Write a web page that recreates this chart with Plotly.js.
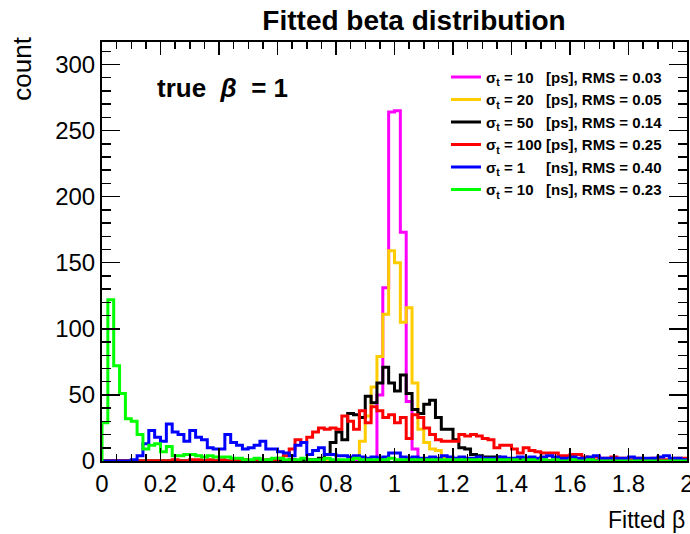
<!DOCTYPE html>
<html>
<head>
<meta charset="utf-8">
<script src="https://cdn.plot.ly/plotly-3.0.1.min.js"></script>
<style>
  html, body { margin: 0; padding: 0; background: #ffffff; }
  #chart { width: 690px; height: 534px; }
</style>
</head>
<body>
<div id="chart"></div>
<script>
// Histogram binning of the fitted beta: 100 bins over [0, 2]
const betaMin = 0;
const betaMax = 2;

// Axis tick labels
const xTickValues = [0, 0.2, 0.4, 0.6, 0.8, 1, 1.2, 1.4, 1.6, 1.8, 2];
const xTickLabels = ['0', '0.2', '0.4', '0.6', '0.8', '1', '1.2', '1.4', '1.6', '1.8', '2'];
const yTickValues = [0, 50, 100, 150, 200, 250, 300];
const yTickLabels = ['0', '50', '100', '150', '200', '250', '300'];

// Bin contents (entries per bin), one array per timing resolution
const counts10ps = [
  0, 0, 0, 0, 0, 0, 0, 0, 0, 0,
  0, 0, 0, 0, 0, 0, 0, 0, 0, 0,
  0, 0, 0, 0, 0, 0, 0, 0, 0, 0,
  0, 0, 0, 0, 0, 0, 0, 0, 0, 0,
  0, 0, 0, 0, 0, 0, 0, 50, 131, 264,
  265, 173, 45, 9, 0, 0, 0, 0, 0, 0,
  0, 0, 0, 0, 0, 0, 0, 0, 0, 0,
  0, 0, 0, 0, 0, 0, 0, 0, 0, 0,
  0, 0, 0, 0, 0, 0, 0, 0, 0, 0,
  0, 0, 0, 0, 0, 0, 0, 0, 0, 0
];

const counts20ps = [
  0, 0, 0, 0, 0, 0, 0, 0, 0, 0,
  0, 0, 0, 0, 0, 0, 0, 0, 0, 0,
  0, 0, 0, 0, 0, 0, 0, 0, 0, 0,
  0, 0, 0, 0, 0, 0, 0, 0, 0, 0,
  0, 0, 0, 2, 15, 34, 56, 79, 111, 159,
  150, 105, 116, 59, 24, 14, 9, 8, 2, 0,
  0, 0, 0, 0, 0, 0, 0, 0, 0, 0,
  0, 0, 0, 0, 0, 0, 0, 0, 0, 0,
  0, 0, 0, 0, 0, 0, 0, 0, 0, 0,
  0, 0, 0, 0, 0, 0, 0, 0, 0, 0
];

const counts50ps = [
  0, 0, 0, 0, 0, 0, 0, 0, 0, 0,
  0, 0, 0, 0, 0, 0, 0, 0, 0, 0,
  0, 0, 0, 0, 0, 0, 0, 0, 0, 0,
  0, 0, 1, 0, 1, 1, 1, 2, 5, 14,
  22, 16, 36, 35, 33, 49, 44, 59, 71, 59,
  53, 65, 51, 39, 36, 43, 46, 33, 24, 24,
  16, 10, 9, 5, 4, 3, 3, 3, 2, 1,
  1, 1, 0, 1, 0, 0, 0, 0, 0, 0,
  0, 0, 0, 0, 0, 0, 0, 0, 0, 0,
  0, 0, 0, 0, 0, 0, 0, 0, 0, 0
];

const counts100ps = [
  0, 0, 0, 0, 0, 0, 0, 0, 0, 0,
  0, 0, 1, 0, 0, 1, 1, 0, 1, 0,
  1, 0, 1, 0, 1, 0, 1, 0, 1, 1,
  2, 4, 9, 16, 14, 18, 22, 25, 24, 25,
  24, 34, 30, 24, 38, 29, 41, 38, 33, 35,
  29, 33, 17, 35, 33, 25, 20, 16, 15, 15,
  15, 20, 19, 20, 19, 17, 16, 10, 12, 12,
  9, 6, 10, 8, 7, 6, 6, 6, 4, 4,
  5, 5, 3, 2, 3, 2, 2, 3, 2, 2,
  1, 2, 1, 1, 2, 1, 1, 1, 2, 2
];

const counts1ns = [
  0, 0, 0, 0, 0, 1, 4, 13, 23, 18,
  15, 28, 22, 20, 15, 23, 18, 16, 10, 9,
  9, 20, 14, 12, 9, 10, 12, 15, 9, 9,
  7, 6, 4, 12, 14, 5, 8, 10, 5, 5,
  4, 4, 3, 4, 3, 2, 3, 2, 3, 6,
  6, 3, 2, 3, 2, 2, 3, 2, 4, 3,
  2, 3, 2, 2, 3, 2, 2, 2, 3, 2,
  2, 3, 2, 3, 2, 3, 4, 3, 2, 2,
  3, 2, 2, 3, 4, 2, 2, 2, 2, 2,
  3, 2, 2, 2, 2, 3, 4, 2, 2, 1
];

const counts10ns = [
  29, 122, 72, 51, 32, 30, 20, 9, 12, 13,
  7, 11, 4, 4, 5, 5, 4, 3, 4, 3,
  3, 3, 2, 2, 1, 1, 2, 1, 1, 2,
  2, 1, 1, 1, 2, 1, 1, 1, 2, 1,
  1, 1, 1, 2, 1, 1, 1, 1, 1, 2,
  1, 1, 1, 1, 1, 1, 1, 1, 1, 1,
  1, 1, 1, 1, 1, 1, 1, 1, 1, 1,
  1, 0, 1, 1, 0, 1, 0, 1, 0, 0,
  1, 0, 0, 1, 0, 0, 0, 0, 0, 0,
  0, 0, 0, 0, 0, 0, 0, 0, 0, 0
];

// Legend labels
const nb = '\u00a0';
const labels = [
  'σ<sub>t</sub> = 10' + nb + nb + nb + '[ps], RMS = 0.03',
  'σ<sub>t</sub> = 20' + nb + nb + nb + '[ps], RMS = 0.05',
  'σ<sub>t</sub> = 50' + nb + nb + nb + '[ps], RMS = 0.14',
  'σ<sub>t</sub> = 100 [ps], RMS = 0.25',
  'σ<sub>t</sub> = 1' + nb + nb + nb + nb + nb + '[ns], RMS = 0.40',
  'σ<sub>t</sub> = 10' + nb + nb + nb + '[ns], RMS = 0.23'
];
const colors = ['#ff00ff', '#ffcc00', '#000000', '#ff0000', '#0000ff', '#00ff00'];
const series = [counts10ps, counts20ps, counts50ps, counts100ps, counts1ns, counts10ns];

// Turn bin contents into a stepped outline (left edges, 'hv' steps)
function histOutline(counts, name, color) {
  const width = (betaMax - betaMin) / counts.length;
  const x = [betaMin];
  const y = [0];
  counts.forEach((c, i) => {
    x.push(betaMin + i * width);
    y.push(c);
  });
  x.push(betaMax);
  y.push(counts[counts.length - 1]);
  return {
    type: 'scatter',
    mode: 'lines',
    x: x,
    y: y,
    name: name,
    line: { color: color, width: 3, shape: 'hv' },
    hoverinfo: 'skip'
  };
}

const traces = series.map((c, i) => histOutline(c, labels[i], colors[i]));

const fontFamily = '"Liberation Sans", Arial, Helvetica, sans-serif';

const layout = {
  width: 690,
  height: 534,
  margin: { l: 102, r: 3, t: 42, b: 73, pad: 0 },
  paper_bgcolor: '#ffffff',
  plot_bgcolor: '#ffffff',
  font: { family: fontFamily, color: '#000000' },
  title: {
    text: 'Fitted beta distribution',
    font: { family: fontFamily, size: 28, weight: 'bold', color: '#000000' },
    x: 0.6, xanchor: 'center',
    y: 0.962, yanchor: 'middle'
  },
  showlegend: true,
  legend: {
    x: 0.588, xanchor: 'left',
    y: 0.955, yanchor: 'top',
    bgcolor: 'rgba(0,0,0,0)',
    borderwidth: 0,
    font: { family: fontFamily, size: 15, weight: 'bold', color: '#000000' },
    tracegroupgap: 0
  },
  xaxis: {
    range: [betaMin, betaMax],
    tickmode: 'array',
    tickvals: xTickValues,
    ticktext: xTickLabels,
    ticklabeloverflow: 'allow',
    ticks: 'inside',
    ticklen: 13,
    tickwidth: 1.5,
    tickcolor: '#000000',
    minor: { dtick: 0.05, tick0: 0, ticks: 'inside', ticklen: 7, tickwidth: 1.5, tickcolor: '#000000', showgrid: false },
    showline: true,
    linecolor: '#000000',
    linewidth: 2,
    mirror: 'allticks',
    showgrid: false,
    zeroline: false,
    tickfont: { family: fontFamily, size: 24, color: '#000000' },
    fixedrange: true
  },
  yaxis: {
    range: [0, 317],
    tickmode: 'array',
    tickvals: yTickValues,
    ticktext: yTickLabels,
    ticks: 'inside',
    ticklen: 18,
    tickwidth: 1.5,
    tickcolor: '#000000',
    minor: { dtick: 10, tick0: 0, ticks: 'inside', ticklen: 9, tickwidth: 1.5, tickcolor: '#000000', showgrid: false },
    showline: true,
    linecolor: '#000000',
    linewidth: 2,
    mirror: 'allticks',
    showgrid: false,
    zeroline: false,
    tickfont: { family: fontFamily, size: 24, color: '#000000' },
    fixedrange: true
  },
  annotations: [
    {
      text: 'count',
      textangle: -90,
      xref: 'paper', yref: 'paper',
      x: -0.137, xanchor: 'center',
      y: 1.017, yanchor: 'top',
      showarrow: false,
      font: { family: fontFamily, size: 26, color: '#000000' }
    },
    {
      text: 'Fitted β',
      xref: 'paper', yref: 'paper',
      x: 1, xanchor: 'right',
      y: -0.142, yanchor: 'middle',
      showarrow: false,
      font: { family: fontFamily, size: 23, color: '#000000' }
    },
    {
      text: '<b>true' + nb + nb + '<i>β</i>' + nb + nb + '= 1</b>',
      xref: 'paper', yref: 'paper',
      x: 0.09, xanchor: 'left',
      y: 0.89, yanchor: 'middle',
      showarrow: false,
      font: { family: fontFamily, size: 26, color: '#000000' }
    }
  ]
};

Plotly.newPlot('chart', traces, layout, { staticPlot: true, displayModeBar: false });
</script>
</body>
</html>
